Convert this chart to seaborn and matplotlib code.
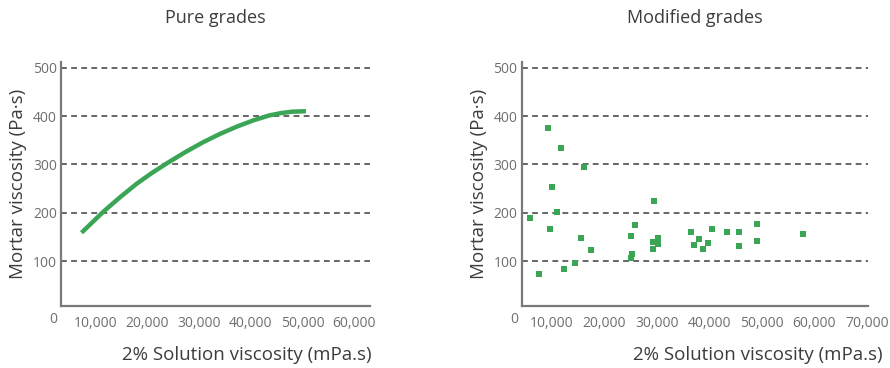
import matplotlib
matplotlib.use("Agg")
import matplotlib.pyplot as plt
import matplotlib.transforms as mtransforms
import seaborn as sns
import pandas as pd

# pure grades curve
pure_x = [7370, 11540, 14770, 17990, 20890, 23780, 27320, 30850, 34070, 37300,
          40500, 43500, 45800, 48000, 50680]
pure_y = [159, 202, 232, 260, 282, 302, 325, 346, 363, 378,
          391, 401, 406, 409, 410]

# modified grades scatter
mod_x = [5840, 7560, 9400, 9650, 10160, 11000, 11800, 12440, 14480, 15680, 16130,
         17400, 25080, 25270, 25020, 25900, 29400, 29210, 29210, 30160, 30160,
         36510, 37200, 38030, 38860, 39810, 40570, 43300, 45710, 45710, 49140,
         49140, 57850]
mod_y = [190, 73, 376, 167, 253, 201, 334, 84, 97, 149, 294,
         124, 153, 116, 106, 174, 224, 140, 126, 148, 135,
         160, 134, 146, 126, 138, 166, 160, 160, 131, 177,
         142, 157]

y_ticks = [100, 200, 300, 400, 500]
left_xticks = [10000, 20000, 30000, 40000, 50000, 60000]
right_xticks = [10000, 20000, 30000, 40000, 50000, 60000, 70000]

GREEN = '#3aa655'
TICK_GREY = '#6e6e6e'
LABEL_GREY = '#3c3c3c'

sns.set_theme(style="white")
plt.rcParams['font.family'] = ['Open Sans', 'DejaVu Sans']

fig = plt.figure(figsize=(8.9, 3.68), dpi=100)
ax1 = fig.add_axes([0.0685, 0.169, 0.347, 0.663])
ax2 = fig.add_axes([0.5862, 0.169, 0.3894, 0.663])

sns.lineplot(x='x', y='y', data=pd.DataFrame({'x': pure_x, 'y': pure_y}),
             ax=ax1, color=GREEN, linewidth=3.2, solid_capstyle='butt')
sns.scatterplot(x='x', y='y', data=pd.DataFrame({'x': mod_x, 'y': mod_y}),
                ax=ax2, color=GREEN, marker='s', s=16, linewidth=0)


def style_axes(ax, xlim, xticks, title, zero_x):
    ax.set_xlim(*xlim)
    ax.set_ylim(8, 512)
    ax.set_yticks(y_ticks)
    ax.set_yticklabels([str(v) for v in y_ticks])
    ax.set_xticks(xticks)
    ax.set_xticklabels([f'{v:,}' for v in xticks])
    for v in y_ticks:
        ax.axhline(v, color='#666666', linestyle=(0, (3, 2.2)), linewidth=1.4, zorder=0)
    for s in ['top', 'right']:
        ax.spines[s].set_visible(False)
    for s in ['left', 'bottom']:
        ax.spines[s].set_color('#7a7a7a')
        ax.spines[s].set_linewidth(1.6)
    ax.tick_params(axis='both', length=0, labelsize=10, colors=TICK_GREY)
    ax.tick_params(axis='x', pad=7)
    ax.tick_params(axis='y', pad=3)
    ax.set_xlabel('')
    ax.set_ylabel('Mortar viscosity (Pa·s)', fontsize=13.5, color=LABEL_GREY, labelpad=4)
    ax.set_title(title, fontsize=13, color=LABEL_GREY, pad=28)
    trans = mtransforms.blended_transform_factory(ax.transData, ax.transAxes)
    ax.text(zero_x, -0.058, '0', transform=trans, ha='center', va='center',
            fontsize=10, color=TICK_GREY, clip_on=False)


style_axes(ax1, (3400, 63000), left_xticks, 'Pure grades', 1830)
style_axes(ax2, (4300, 70300), right_xticks, 'Modified grades', 2860)

fig.text(372 / 890, 1 - 355 / 368, '2% Solution viscosity (mPa.s)', ha='right', va='center',
         fontsize=13.5, color=LABEL_GREY)
fig.text(883 / 890, 1 - 355 / 368, '2% Solution viscosity (mPa.s)', ha='right', va='center',
         fontsize=13.5, color=LABEL_GREY)

fig.savefig('out.png', dpi=100)
